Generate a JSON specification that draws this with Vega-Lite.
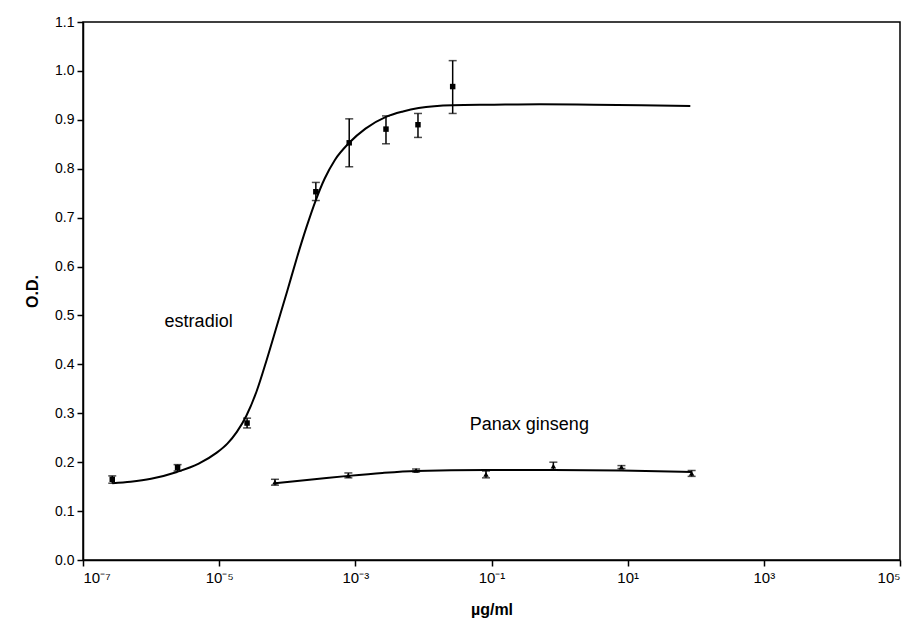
{
  "$schema": "https://vega.github.io/schema/vega-lite/v6.json",
  "width": 817,
  "height": 538,
  "autosize": {"type": "none"},
  "padding": {"left": 83, "top": 22, "right": 17, "bottom": 69},
  "background": "white",
  "config": {
    "view": {"stroke": "black", "strokeWidth": 1.5},
    "font": "Liberation Sans",
    "axis": {
      "domainColor": "black", "domainWidth": 1.5, "tickColor": "black", "tickWidth": 1.5,
      "tickSize": 6, "labelColor": "black", "labelFont": "Liberation Sans", "labelFontSize": 14,
      "titleFont": "Liberation Sans", "titleFontSize": 16, "titleFontWeight": "bold", "titleColor": "black",
      "grid": false
    }
  },
  "datasets": {
    "curve": [
      {"series": "estradiol", "x": 2.69e-7, "y": 0.157},
      {"series": "estradiol", "x": 5.01e-7, "y": 0.160},
      {"series": "estradiol", "x": 1e-6, "y": 0.166},
      {"series": "estradiol", "x": 2.40e-6, "y": 0.180},
      {"series": "estradiol", "x": 5.01e-6, "y": 0.197},
      {"series": "estradiol", "x": 9.12e-6, "y": 0.219},
      {"series": "estradiol", "x": 1.32e-5, "y": 0.238},
      {"series": "estradiol", "x": 1.82e-5, "y": 0.262},
      {"series": "estradiol", "x": 2.51e-5, "y": 0.295},
      {"series": "estradiol", "x": 3.55e-5, "y": 0.345},
      {"series": "estradiol", "x": 5.01e-5, "y": 0.410},
      {"series": "estradiol", "x": 7.08e-5, "y": 0.480},
      {"series": "estradiol", "x": 1e-4, "y": 0.550},
      {"series": "estradiol", "x": 1.38e-4, "y": 0.617},
      {"series": "estradiol", "x": 1.91e-4, "y": 0.680},
      {"series": "estradiol", "x": 2.63e-4, "y": 0.736},
      {"series": "estradiol", "x": 3.55e-4, "y": 0.780},
      {"series": "estradiol", "x": 5.01e-4, "y": 0.818},
      {"series": "estradiol", "x": 8.13e-4, "y": 0.853},
      {"series": "estradiol", "x": 1.41e-3, "y": 0.882},
      {"series": "estradiol", "x": 2.82e-3, "y": 0.906},
      {"series": "estradiol", "x": 5.01e-3, "y": 0.917},
      {"series": "estradiol", "x": 8.51e-3, "y": 0.924},
      {"series": "estradiol", "x": 2.69e-2, "y": 0.930},
      {"series": "estradiol", "x": 0.1, "y": 0.931},
      {"series": "estradiol", "x": 0.513, "y": 0.932},
      {"series": "estradiol", "x": 3.16, "y": 0.931},
      {"series": "estradiol", "x": 15.8, "y": 0.930},
      {"series": "estradiol", "x": 83.2, "y": 0.928},
      {"series": "Panax ginseng", "x": 6.6e-5, "y": 0.157},
      {"series": "Panax ginseng", "x": 2.5e-4, "y": 0.165},
      {"series": "Panax ginseng", "x": 7.9e-4, "y": 0.172},
      {"series": "Panax ginseng", "x": 2.5e-3, "y": 0.178},
      {"series": "Panax ginseng", "x": 7.8e-3, "y": 0.182},
      {"series": "Panax ginseng", "x": 8.3e-2, "y": 0.184},
      {"series": "Panax ginseng", "x": 0.81, "y": 0.184},
      {"series": "Panax ginseng", "x": 8.1, "y": 0.183},
      {"series": "Panax ginseng", "x": 87, "y": 0.180}
    ],
    "pts": [
      {"series": "estradiol", "x": 2.69e-7, "y": 0.165, "lo": 0.157, "hi": 0.172},
      {"series": "estradiol", "x": 2.45e-6, "y": 0.189, "lo": 0.182, "hi": 0.195},
      {"series": "estradiol", "x": 2.57e-5, "y": 0.280, "lo": 0.270, "hi": 0.290},
      {"series": "estradiol", "x": 2.63e-4, "y": 0.753, "lo": 0.735, "hi": 0.772},
      {"series": "estradiol", "x": 8.13e-4, "y": 0.853, "lo": 0.804, "hi": 0.902},
      {"series": "estradiol", "x": 2.82e-3, "y": 0.881, "lo": 0.851, "hi": 0.908},
      {"series": "estradiol", "x": 8.32e-3, "y": 0.890, "lo": 0.864, "hi": 0.913},
      {"series": "estradiol", "x": 2.69e-2, "y": 0.968, "lo": 0.913, "hi": 1.021},
      {"series": "Panax ginseng", "x": 6.6e-5, "y": 0.159, "lo": 0.153, "hi": 0.165},
      {"series": "Panax ginseng", "x": 7.9e-4, "y": 0.173, "lo": 0.168, "hi": 0.178},
      {"series": "Panax ginseng", "x": 7.8e-3, "y": 0.183, "lo": 0.180, "hi": 0.186},
      {"series": "Panax ginseng", "x": 8.3e-2, "y": 0.175, "lo": 0.168, "hi": 0.182},
      {"series": "Panax ginseng", "x": 0.81, "y": 0.192, "lo": 0.184, "hi": 0.200},
      {"series": "Panax ginseng", "x": 8.1, "y": 0.190, "lo": 0.187, "hi": 0.193},
      {"series": "Panax ginseng", "x": 87, "y": 0.177, "lo": 0.171, "hi": 0.183}
    ],
    "labels": [
      {"text": "estradiol", "x": 1.58e-6, "y": 0.487},
      {"text": "Panax ginseng", "x": 0.048, "y": 0.276}
    ]
  },
  "layer": [
    {
      "data": {"name": "curve"},
      "mark": {"type": "line", "color": "black", "strokeWidth": 2, "interpolate": "monotone"},
      "encoding": {
        "x": {"field": "x", "type": "quantitative",
          "scale": {"type": "log", "domain": [1e-7, 100000], "nice": false},
          "axis": {"values": [1e-7, 1e-5, 0.001, 0.1, 10, 1000, 100000],
            "labelExpr": "'10' + (round(log(datum.value)/LN10) < 0 ? '⁻' : '') + ['⁰','¹','²','³','⁴','⁵','⁶','⁷','⁸','⁹'][abs(round(log(datum.value)/LN10))]",
            "labelPadding": 4, "labelFontSize": 15, "title": "µg/ml", "titlePadding": 16}},
        "y": {"field": "y", "type": "quantitative", "title": "O.D.",
          "scale": {"domain": [0, 1.1], "nice": false},
          "axis": {"values": [0, 0.1, 0.2, 0.3, 0.4, 0.5, 0.6, 0.7, 0.8, 0.9, 1.0, 1.1],
            "format": ".1f", "labelPadding": 3, "title": "O.D.", "titlePadding": 14}},
        "detail": {"field": "series"}
      }
    },
    {
      "data": {"name": "pts"},
      "mark": {"type": "errorbar", "color": "black", "ticks": {"size": 8, "thickness": 1.5}, "rule": {"strokeWidth": 1.5}},
      "encoding": {
        "x": {"field": "x", "type": "quantitative", "title": "µg/ml"},
        "y": {"field": "lo", "type": "quantitative", "title": "O.D."},
        "y2": {"field": "hi"}
      }
    },
    {
      "data": {"name": "pts"},
      "mark": {"type": "point", "filled": true, "color": "black", "opacity": 1},
      "encoding": {
        "x": {"field": "x", "type": "quantitative", "title": "µg/ml"},
        "y": {"field": "y", "type": "quantitative", "title": "O.D."},
        "shape": {"field": "series", "type": "nominal",
          "scale": {"domain": ["estradiol", "Panax ginseng"], "range": ["square", "triangle-up"]}, "legend": null},
        "size": {"value": 30}
      }
    },
    {
      "data": {"name": "labels"},
      "mark": {"type": "text", "align": "left", "baseline": "middle", "fontSize": 18, "color": "black", "font": "Liberation Sans"},
      "encoding": {
        "x": {"field": "x", "type": "quantitative", "title": "µg/ml"},
        "y": {"field": "y", "type": "quantitative", "title": "O.D."},
        "text": {"field": "text"}
      }
    }
  ]
}
